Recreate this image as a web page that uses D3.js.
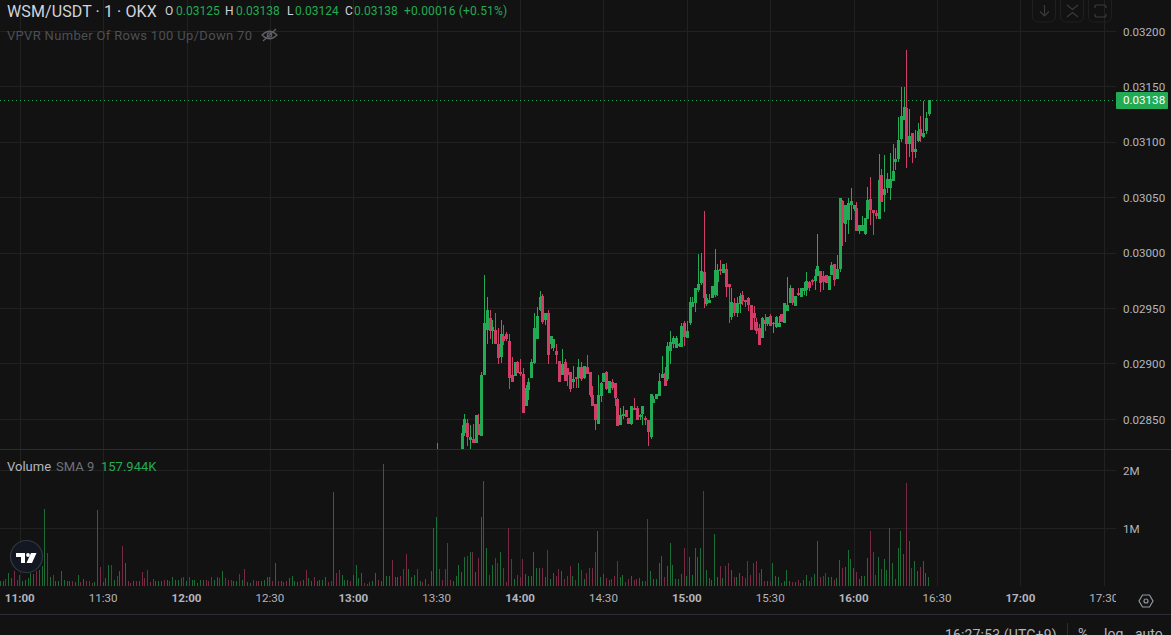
<!DOCTYPE html>
<html>
<head>
<meta charset="utf-8">
<title>WSM/USDT</title>
<script src="https://cdn.jsdelivr.net/npm/d3@7"></script>
<style>
  html, body { margin: 0; padding: 0; background: #121212; overflow: hidden; }
  svg { display: block; font-family: Roboto, sans-serif; }
</style>
</head>
<body>
<div id="chart"></div>
<script>
// prices are in 0.00001 USDT. first entry is the 13:30 bar, 13:31-13:38 sit below the pane
var candleOpen = [2815,null,null,null,null,null,null,null,null,
  2815,2838,2847,2831,2832,2829,2846,2835,2890,2931,2941,2930,2931,2918,2906,2925,2927,2921,2890,2889,
  2902,2893,2891,2862,2876,2887,2901,2922,2949,2961,2940,2946,2918,2914,2912,2903,2890,2902,2896,2893,
  2884,2888,2887,2897,2887,2897,2893,2872,2864,2846,2871,2884,2893,2874,2884,2883,2868,2845,2853,2858,
  2851,2846,2860,2860,2852,2855,2851,2849,2834,2865,2868,2871,2887,2892,2886,2912,2918,2914,2916,2915,
  2937,2923,2937,2951,2955,2967,2973,2983,2954,2955,2959,2962,2974,2986,2982,2986,2972,2942,2955,2946,
  2954,2962,2958,2959,2953,2946,2938,2932,2923,2940,2936,2943,2936,2933,2933,2945,2937,2948,2955,2968,
  2952,2964,2960,2966,2967,2974,2976,2975,2979,2984,2979,2980,2967,2980,2990,2977,2986,3047,3026,3030,
  3043,3040,3041,3020,3020,3017,3031,3049,3039,3036,3031,3070,3052,3059,3059,3065,3082,3085,3103,3120,
  3131,3098,3108,3091,3101,3112,3105,3110,3125];
var candleHigh = [2829,null,null,null,null,null,null,null,null,
  2845,2855,2850,2845,2846,2854,2855,2893,2980,2960,2949,2940,2946,2932,2940,2935,2929,2927,2906,2902,
  2903,2904,2896,2881,2887,2904,2946,2951,2966,2963,2946,2949,2925,2922,2918,2903,2913,2904,2896,2893,
  2898,2888,2904,2902,2898,2908,2893,2880,2864,2890,2884,2892,2894,2885,2886,2883,2869,2860,2862,2858,
  2851,2862,2869,2862,2855,2862,2853,2849,2873,2871,2873,2892,2907,2897,2920,2930,2925,2925,2919,2937,
  2939,2939,2960,2960,2968,2999,3000,3038,2963,2963,2970,3004,2990,2994,2990,2991,2972,2968,2959,2960,
  2964,2966,2958,2960,2953,2952,2941,2936,2942,2945,2942,2945,2938,2943,2943,2945,2955,2978,2971,2968,
  2961,2968,2968,2974,2983,2975,2977,2986,3017,2984,2984,2980,2979,2992,2990,2998,3050,3048,3043,3050,
  3059,3043,3046,3025,3033,3032,3060,3069,3039,3039,3089,3076,3088,3072,3090,3098,3095,3123,3150,3150,
  3183,3130,3108,3111,3117,3124,3137,3127,3138];
var candleLow = [2812,null,null,null,null,null,null,null,null,
  2810,2835,2826,2822,2829,2829,2836,2835,2890,2918,2922,2918,2918,2900,2901,2917,2921,2877,2884,2889,
  2892,2889,2856,2862,2867,2887,2900,2922,2948,2936,2935,2900,2913,2912,2900,2884,2890,2885,2880,2875,
  2878,2878,2878,2885,2886,2891,2870,2862,2840,2846,2866,2884,2876,2874,2876,2862,2844,2845,2850,2852,
  2846,2845,2858,2849,2849,2845,2845,2826,2832,2865,2868,2871,2887,2880,2885,2900,2914,2914,2915,2915,
  2916,2923,2935,2951,2947,2965,2971,2950,2952,2955,2959,2960,2961,2980,2982,2960,2937,2940,2943,2942,
  2946,2953,2951,2948,2931,2931,2927,2917,2923,2930,2934,2934,2928,2932,2933,2938,2937,2948,2955,2953,
  2952,2961,2960,2962,2961,2966,2971,2967,2979,2965,2967,2973,2967,2980,2970,2977,2983,3006,3010,3017,
  3030,3038,3020,3017,3020,3016,3031,3025,3016,3031,3031,3046,3037,3054,3048,3065,3075,3082,3100,3120,
  3077,3087,3081,3086,3100,3100,3104,3107,3124];
var candleClose = [2820,null,null,null,null,null,null,null,null,
  2838,2850,2834,2834,2829,2854,2836,2890,2937,2949,2930,2933,2918,2905,2927,2921,2922,2887,2884,2902,
  2892,2891,2856,2878,2884,2902,2932,2943,2960,2938,2946,2908,2925,2922,2908,2884,2900,2885,2890,2877,
  2886,2886,2897,2886,2898,2891,2872,2862,2849,2872,2883,2892,2877,2885,2878,2869,2844,2854,2855,2852,
  2846,2862,2858,2849,2854,2862,2849,2839,2873,2868,2873,2885,2891,2880,2916,2920,2923,2923,2918,2934,
  2924,2930,2956,2956,2968,2972,2984,2959,2959,2958,2970,2985,2985,2984,2990,2969,2969,2956,2946,2955,
  2961,2957,2956,2953,2931,2941,2930,2917,2941,2936,2942,2934,2937,2942,2937,2938,2955,2953,2968,2955,
  2961,2962,2968,2968,2975,2968,2974,2979,2988,2973,2974,2973,2979,2989,2976,2986,3050,3027,3043,3045,
  3047,3043,3020,3025,3025,3032,3048,3039,3036,3033,3066,3046,3058,3067,3067,3074,3085,3102,3124,3132,
  3098,3106,3091,3094,3110,3106,3108,3122,3138];

// one volume bar per minute from 10:53, in thousands
var volumes = [100,100,125,230,145,260,115,200,100,115,145,230,220,260,290,345,1330,580,160,200,
  100,85,270,115,100,85,100,75,200,75,125,100,100,60,75,1310,330,80,140,365,
  375,105,185,260,695,405,85,60,100,100,100,245,145,290,75,125,85,85,100,115,
  105,85,160,115,105,145,160,100,160,115,115,60,115,115,115,100,160,115,160,145,
  260,145,115,105,100,100,220,115,305,75,60,115,85,85,100,115,155,160,85,405,
  85,100,70,100,145,175,85,80,85,115,290,145,85,160,85,115,115,160,75,100,
  1635,230,290,200,115,115,85,200,375,145,230,60,45,70,85,230,115,100,2110,185,
  175,450,160,160,175,305,565,305,155,200,305,100,70,135,45,270,1015,1190,305,115,
  305,740,115,100,185,375,255,515,530,600,600,255,495,1190,1815,655,200,375,495,395,
  585,325,80,1015,480,135,200,170,480,220,185,185,585,325,325,325,170,620,135,235,
  185,305,270,135,185,360,185,115,395,290,135,235,325,325,600,950,170,220,150,115,
  135,185,430,170,200,80,135,185,115,135,150,100,100,1155,270,135,135,395,530,170,
  360,755,375,135,135,220,670,185,515,200,670,515,655,1640,290,150,115,895,170,360,
  150,360,395,290,170,170,235,185,150,430,200,395,430,235,305,100,100,100,410,185,
  170,65,100,290,100,80,80,115,65,115,200,100,170,220,790,170,185,235,170,170,
  115,150,460,325,340,620,480,325,255,135,185,185,495,950,585,200,515,305,480,290,
  1000,395,135,655,950,565,1780,775,325,445,270,340,430,235,170];
// up or down for the bars before the first visible candle
var earlyVolumeDirs = "uuduuddduu" + "uuuduuudud" + "uuuuuuduud" + "uddduuduuu" + "dudududdud" +
  "uddddduuud" + "uduuuududu" + "uuuuddduud" + "uddduududu" + "uddduuuudu" + "dudduuuudu" +
  "duuduuuudd" + "udduuuduuu" + "uddduuduuu" + "uduuddduuu" + "dududuuudd" + "ddduuu";

var priceTicks = [0.032, 0.0315, 0.031, 0.0305, 0.03, 0.0295, 0.029, 0.0285];
var volumeTicks = [1000000, 2000000];
var timeTicks = ["11:00","11:30","12:00","12:30","13:00","13:30","14:00","14:30","15:00","15:30","16:00","16:30","17:00","17:30"];
var lastPrice = 0.03138;

var width = 1171, height = 635;
var axisX = 1116, paneBottom = 449, volumeBottom = 586, timeLine = 614;
var green = "#22ab54", red = "#cf3d68", gridColor = "#212121", textColor = "#b2b5be";

function at(hhmm) {
  var p = hhmm.split(":");
  return new Date(Date.UTC(2024, 0, 1, +p[0], +p[1]));
}
function addMinutes(d, n) { return new Date(d.getTime() + n * 60000); }

var x = d3.scaleUtc().domain([at("11:00"), at("17:30")]).range([20.3, 1104.24]);
var y = d3.scaleLinear().domain([0.0285, 0.032]).range([419.31, 31.3]);
var yVol = d3.scaleLinear().domain([0, 2000000]).range([586.4, 470.4]);

var candles = candleOpen.map(function (o, i) {
  return { t: addMinutes(at("13:30"), i), o: o / 1e5, h: candleHigh[i] / 1e5, l: candleLow[i] / 1e5, c: candleClose[i] / 1e5, empty: o === null };
}).filter(function (d) { return !d.empty; });

var bars = volumes.map(function (v, i) {
  var t = addMinutes(at("10:53"), i), up;
  if (i < earlyVolumeDirs.length) up = earlyVolumeDirs[i] === "u";
  else { var k = i - earlyVolumeDirs.length + 9; up = candleClose[k] >= candleOpen[k]; }
  return { t: t, v: v * 1000, up: up };
});

var svg = d3.select("#chart").append("svg").attr("width", width).attr("height", height);
svg.append("rect").attr("width", width).attr("height", height).attr("fill", "#121212");

var defs = svg.append("defs");
defs.append("clipPath").attr("id", "priceClip").append("rect").attr("width", axisX).attr("height", paneBottom);
defs.append("clipPath").attr("id", "volClip").append("rect").attr("y", paneBottom).attr("width", axisX).attr("height", volumeBottom - paneBottom);

function crisp(v) { return Math.floor(v) + 0.5; }

// grid
var grid = svg.append("g").attr("stroke", gridColor).attr("fill", "none");
grid.selectAll(".vgrid").data(timeTicks).enter().append("line")
  .attr("x1", function (d) { return crisp(x(at(d))); })
  .attr("x2", function (d) { return crisp(x(at(d))); })
  .attr("y1", 0).attr("y2", volumeBottom);
grid.selectAll(".hgrid").data(priceTicks).enter().append("line")
  .attr("x1", 0).attr("x2", axisX)
  .attr("y1", function (d) { return crisp(y(d)); })
  .attr("y2", function (d) { return crisp(y(d)); });
grid.selectAll(".vgrid2").data(volumeTicks).enter().append("line")
  .attr("x1", 0).attr("x2", axisX)
  .attr("y1", function (d) { return crisp(yVol(d)); })
  .attr("y2", function (d) { return crisp(yVol(d)); });

// pane separators
svg.append("line").attr("x1", 0).attr("x2", width).attr("y1", paneBottom + 0.5).attr("y2", paneBottom + 0.5).attr("stroke", "#2b2c33");
svg.append("line").attr("x1", 0).attr("x2", width).attr("y1", timeLine + 0.5).attr("y2", timeLine + 0.5).attr("stroke", "#2a2c38");

// candles
var candleG = svg.append("g").attr("clip-path", "url(#priceClip)");
var candle = candleG.selectAll(".candle").data(candles).enter().append("g").attr("class", "candle");
candle.append("rect")
  .attr("x", function (d) { return Math.floor(x(d.t)); })
  .attr("width", 1)
  .attr("y", function (d) { return Math.round(y(d.h)); })
  .attr("height", function (d) { return Math.max(1, Math.round(y(d.l)) - Math.round(y(d.h))); })
  .attr("fill", function (d) { return d.c >= d.o ? green : red; });
candle.append("rect")
  .attr("x", function (d) { return Math.floor(x(d.t)) - 1; })
  .attr("width", 3)
  .attr("y", function (d) { return Math.round(y(Math.max(d.o, d.c))); })
  .attr("height", function (d) { return Math.max(1, Math.round(y(Math.min(d.o, d.c))) - Math.round(y(Math.max(d.o, d.c)))); })
  .attr("fill", function (d) { return d.c >= d.o ? green : red; });

// last price line
svg.append("line").attr("x1", 0).attr("x2", axisX)
  .attr("y1", crisp(y(lastPrice))).attr("y2", crisp(y(lastPrice)))
  .attr("stroke", green).attr("stroke-dasharray", "1 3");

// volume
svg.append("g").attr("clip-path", "url(#volClip)").selectAll("rect").data(bars).enter().append("rect")
  .attr("x", function (d) { return Math.round(x(d.t)) - 1; })
  .attr("width", 1)
  .attr("y", function (d) { return Math.round(yVol(d.v)); })
  .attr("height", function (d) { return volumeBottom - Math.round(yVol(d.v)); })
  .attr("fill", function (d) { return d.up ? "#1c6c37" : "#772a42"; });

// axes
function styleAxis(g) {
  g.select(".domain").remove();
  g.selectAll("text").attr("fill", textColor).style("font-size", "11.6px").style("font-family", "Roboto, sans-serif");
}
svg.append("g").attr("transform", "translate(" + axisX + ",0)")
  .call(d3.axisRight(y).tickValues(priceTicks).tickFormat(d3.format(".5f")).tickSize(0).tickPadding(7))
  .call(styleAxis);
svg.append("g").attr("transform", "translate(" + axisX + ",0)")
  .call(d3.axisRight(yVol).tickValues(volumeTicks).tickFormat(function (d) { return d / 1000000 + "M"; }).tickSize(0).tickPadding(7))
  .call(styleAxis);
svg.append("g").attr("transform", "translate(-1," + volumeBottom + ")")
  .call(d3.axisBottom(x).tickValues(timeTicks.map(at)).tickFormat(d3.utcFormat("%H:%M")).tickSize(0).tickPadding(8))
  .call(styleAxis)
  .call(function (g) {
    g.selectAll("text").style("font-weight", function (d) { return d.getUTCMinutes() === 0 ? 700 : 400; });
  });
// the last time label is cut off by the price axis
svg.append("rect").attr("x", axisX).attr("y", volumeBottom + 1).attr("width", width - axisX).attr("height", timeLine - volumeBottom - 1).attr("fill", "#121212");

// last price label
svg.append("rect").attr("x", axisX).attr("y", 92).attr("width", 52).attr("height", 17).attr("rx", 1).attr("fill", green);
svg.append("text").attr("x", axisX + 7).attr("y", y(lastPrice)).attr("dy", "0.36em")
  .attr("fill", "#fff").style("font-size", "11.6px").text(d3.format(".5f")(lastPrice));

// legend
function label(px, py, txt, color, size, spacing) {
  return svg.append("text").attr("x", px).attr("y", py).attr("fill", color)
    .style("font-size", size + "px").style("letter-spacing", (spacing || 0) + "px").text(txt);
}
label(7, 17, "WSM/USDT · 1 · OKX", "#d1d4dc", 16, 0.1);
[[165, "O", "0.03125", 176], [225, "H", "0.03138", 236], [287, "L", "0.03124", 295], [345, "C", "0.03138", 354]].forEach(function (d) {
  label(d[0], 15, d[1], "#d1d4dc", 12);
  label(d[3], 15, d[2], green, 12);
});
label(404, 15, "+0.00016 (+0.51%)", green, 12, 0.15);
label(7, 40, "VPVR Number Of Rows 100 Up/Down 70", "#4d4f55", 13, 0.32);
label(7, 471, "Volume", textColor, 13);
label(56, 471, "SMA 9", "#6f7178", 13);
label(101, 471, "157.944K", green, 13);

// eye-off icon
var eye = svg.append("g").attr("fill", "none").attr("stroke", "#5f6167").attr("stroke-width", 1.2);
eye.append("path").attr("d", "M262 35 Q269.5 27.5 277 35 Q269.5 42.5 262 35 Z");
eye.append("circle").attr("cx", 269.5).attr("cy", 35).attr("r", 2.2);
eye.append("line").attr("x1", 263).attr("y1", 41).attr("x2", 276).attr("y2", 29);

// top right buttons
var btn = svg.append("g").attr("fill", "none").attr("stroke", "#1f1f1f");
[1033, 1061, 1089].forEach(function (bx) {
  btn.append("rect").attr("x", bx - 0.5).attr("y", -8).attr("width", 23).attr("height", 30).attr("rx", 5);
});
var ico = svg.append("g").attr("fill", "none").attr("stroke", "#3a3a3a").attr("stroke-width", 1.2);
ico.append("path").attr("d", "M1044.5 5 V16 M1040 11.5 L1044.5 16 L1049 11.5");
ico.append("path").attr("d", "M1067 5 L1072.5 9.5 L1078 5 M1067 17 L1072.5 12.5 L1078 17");
ico.append("path").attr("d", "M1095 8 V7 Q1095 5 1097 5 H1104 Q1106 5 1106 7 V8 M1095 14 V15 Q1095 17 1097 17 H1104 Q1106 17 1106 15 V14");

// logo
svg.append("circle").attr("cx", 26.5).attr("cy", 556.5).attr("r", 16).attr("fill", "#131722").attr("stroke", "#33363f").attr("stroke-width", 1.2);
svg.append("path").attr("fill", "#fff").attr("d", "M16 553 H25 V563 H21 V557 H16 Z M31 553 H36.5 L32 563 H26.5 Z");
svg.append("circle").attr("cx", 28).attr("cy", 555).attr("r", 1.9).attr("fill", "#fff");

// gear
svg.append("path").attr("fill", "none").attr("stroke", "#9598a1").attr("stroke-width", 1.2)
  .attr("d", "M1142.5 595 H1149.5 L1153 601 L1149.5 607 H1142.5 L1139 601 Z");
svg.append("circle").attr("cx", 1146).attr("cy", 601).attr("r", 2).attr("fill", "none").attr("stroke", "#9598a1").attr("stroke-width", 1.2);

// bottom toolbar, cut off by the window
label(945, 640, "16:27:53 (UTC+9)", textColor, 14, 0.15);
svg.append("line").attr("x1", 1067.5).attr("x2", 1067.5).attr("y1", 623).attr("y2", 635).attr("stroke", "#2a2c38");
label(1078, 639, "%", textColor, 14);
label(1104, 639, "log", textColor, 14);
label(1135, 639, "auto", textColor, 14);
</script>
</body>
</html>
